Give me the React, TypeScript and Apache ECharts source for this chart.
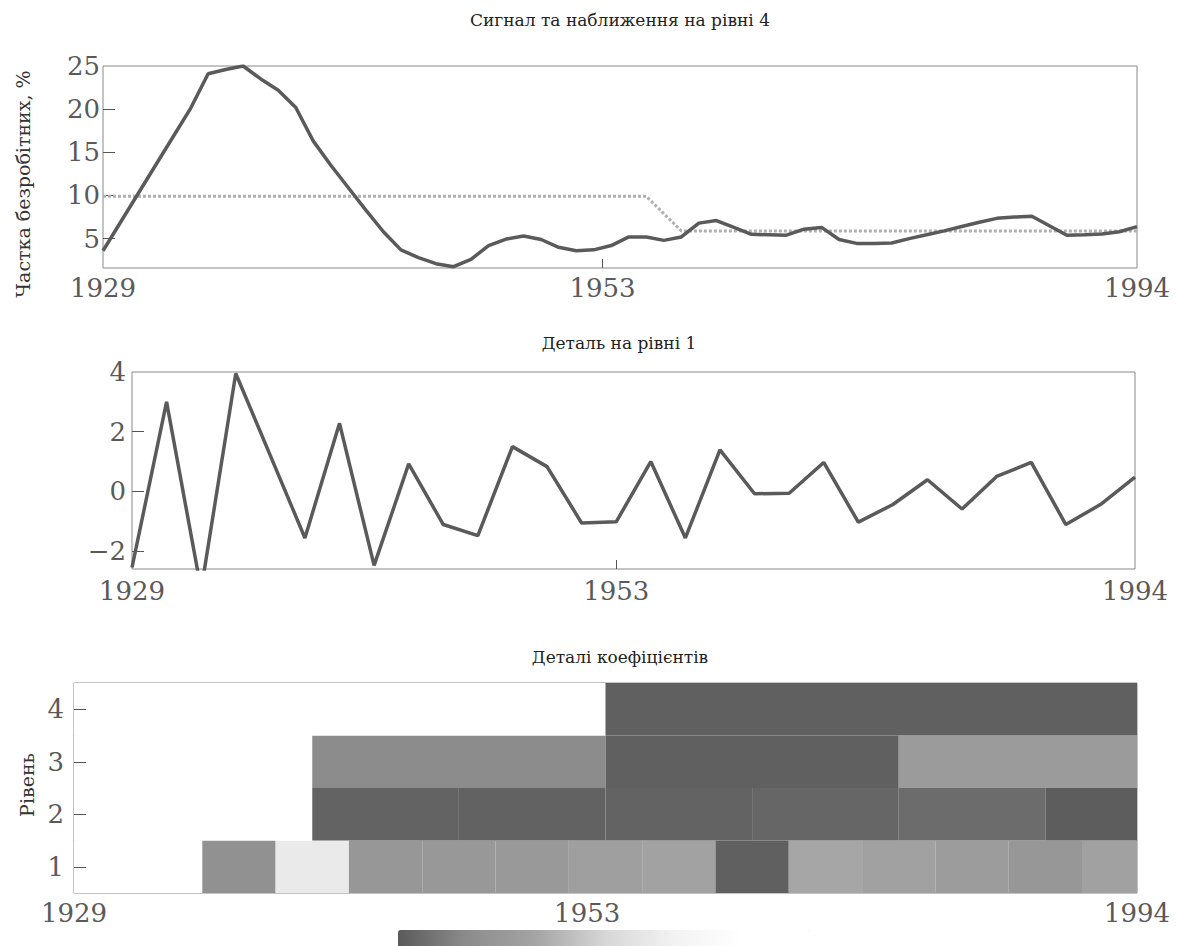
import React, { useEffect, useRef } from 'react';
import * as echarts from 'echarts';

const FONT = 'DejaVu Serif';

// tick labels (years) and their positions on each panel's sample axis
const yearLabels = ['1929', '1953', '1994'];
const signalTickPos = [0, 28.5, 59];
const detailTickPos = [0, 14, 29];
const scaloTickPos = [0, 14, 29];

const unemploymentTicks = [5, 10, 15, 20, 25];
const detailTicks = [-2, 0, 2, 4];
const levelTicks = [1, 2, 3, 4];

// unemployment signal (60 samples)
const signal = [
  3.6, 6.9, 10.2, 13.5, 16.8, 20.1, 24.1, 24.6, 25.0, 23.5,
  22.2, 20.2, 16.3, 13.5, 10.9, 8.3, 5.8, 3.7, 2.8, 2.1,
  1.75, 2.6, 4.2, 4.95, 5.3, 4.9, 4.0, 3.6, 3.7, 4.2,
  5.2, 5.2, 4.8, 5.2, 6.8, 7.1, 6.3, 5.5, 5.45, 5.4,
  6.1, 6.3, 4.9, 4.45, 4.45, 4.5, 5.0, 5.45, 5.9, 6.4,
  6.9, 7.35, 7.5, 7.6, 6.5, 5.4, 5.45, 5.55, 5.8, 6.4,
];

// approximation at level 4 (60 samples)
const approx4 = [
  9.9, 9.9, 9.9, 9.9, 9.9, 9.9, 9.9, 9.9, 9.9, 9.9,
  9.9, 9.9, 9.9, 9.9, 9.9, 9.9, 9.9, 9.9, 9.9, 9.9,
  9.9, 9.9, 9.9, 9.9, 9.9, 9.9, 9.9, 9.9, 9.9, 9.9,
  9.9, 9.9, 7.9, 5.9, 5.9, 5.9, 5.9, 5.9, 5.9, 5.9,
  5.9, 5.9, 5.9, 5.9, 5.9, 5.9, 5.9, 5.9, 5.9, 5.9,
  5.9, 5.9, 5.9, 5.9, 5.9, 5.9, 5.9, 5.9, 5.9, 5.9,
];

// detail at level 1 (30 coefficients)
const detail1 = [
  -2.55, 3.0, -3.3, 3.95, 1.2, -1.56, 2.28, -2.48, 0.92, -1.11,
  -1.48, 1.5, 0.83, -1.06, -1.02, 1.0, -1.56, 1.39, -0.08, -0.06,
  0.97, -1.03, -0.44, 0.39, -0.59, 0.5, 0.97, -1.11, -0.44, 0.48,
];

// scalogram shade per block (0 = darkest, 1 = white)
const level1 = [0.97, 1.0, 0.2, 0.62, 0.24, 0.25, 0.26, 0.3, 0.32, 0.02, 0.34, 0.31, 0.28, 0.24, 0.31];
const level2 = [1.0, 1.0, 0.03, 0.025, 0.03, 0.04, 0.06, 0.01];
const level3 = [1.0, 0.17, 0.02, 0.27];
const level4 = [1.0, 0.02];
const levelValues = [level1, level2, level3, level4];
const levelBlockWidth = [2, 4, 8, 16];
const levelStart = [-0.5, -1.5, -1.5, -1.5];

const scaleColors = ['#5a5a5a', '#8c8c8c', '#a4a4a4', '#d6d6d6', '#f2f2f2', '#ffffff', '#ffffff'];

function labelAt(pos: number[]) {
  return (v: number) => {
    const i = pos.findIndex((p) => Math.abs(p - v) < 1e-6);
    return i >= 0 ? yearLabels[i] : '';
  };
}

function xAxisFor(gridIndex: number, max: number, pos: number[], margin: number) {
  return {
    type: 'value',
    gridIndex,
    min: 0,
    max,
    axisLine: { show: false, onZero: false },
    splitLine: { show: false },
    axisTick: {
      show: true,
      inside: true,
      length: 9,
      customValues: [pos[1]],
      lineStyle: { color: '#555', width: 1 },
    },
    axisLabel: {
      customValues: pos,
      formatter: labelAt(pos),
      fontFamily: FONT,
      fontSize: 26,
      color: '#5a5a5a',
      margin,
    },
  };
}

function yAxisFor(gridIndex: number, min: number, max: number, labels: number[], ticks: number[], margin: number, z: number, fmt?: (v: number) => string) {
  return {
    type: 'value',
    gridIndex,
    min,
    max,
    z,
    axisLine: { show: false, onZero: false },
    splitLine: { show: false },
    axisTick: {
      show: true,
      inside: true,
      length: 12,
      customValues: ticks,
      lineStyle: { color: '#555', width: 1 },
    },
    axisLabel: {
      customValues: labels,
      formatter: fmt || ((v: number) => String(v)),
      fontFamily: FONT,
      fontSize: 26,
      color: '#5a5a5a',
      margin,
    },
  };
}

export default function App() {
  const ref = useRef<HTMLDivElement>(null);
  useEffect(() => {
    if (!ref.current) return;
    const chart = echarts.init(ref.current, undefined, { renderer: 'svg' });

    const cells: number[][] = [];
    levelValues.forEach((arr, li) => {
      arr.forEach((v, k) => {
        const x0 = levelStart[li] + k * levelBlockWidth[li];
        cells.push([x0, x0 + levelBlockWidth[li], li + 1, v]);
      });
    });

    const gridStyle = { show: true, borderColor: '#888', borderWidth: 1, backgroundColor: 'transparent' };

    const option: any = {
      animation: false,
      backgroundColor: '#ffffff',
      grid: [
        { left: 103, top: 66, width: 1034, height: 202, ...gridStyle },
        { left: 132, top: 372, width: 1003, height: 197, ...gridStyle },
        { left: 74, top: 683, width: 1063, height: 210, ...gridStyle },
      ],
      xAxis: [
        xAxisFor(0, 59, signalTickPos, 7),
        xAxisFor(1, 29, detailTickPos, 9),
        xAxisFor(2, 29, scaloTickPos, 7),
      ],
      yAxis: [
        yAxisFor(0, 1.6, 25, unemploymentTicks, [5, 10, 15, 20], 3, 0),
        yAxisFor(1, -2.6, 4, detailTicks, [-2, 0, 2], 6, 0, (v: number) => (v < 0 ? '\u2212' + Math.abs(v) : String(v))),
        yAxisFor(2, 0.5, 4.5, levelTicks, levelTicks, 10, 5),
      ],
      visualMap: {
        type: 'continuous',
        seriesIndex: 3,
        dimension: 3,
        min: 0,
        max: 1,
        orient: 'horizontal',
        left: 398,
        top: 930,
        itemWidth: 20,
        itemHeight: 412,
        padding: 0,
        calculable: false,
        showLabel: false,
        text: null,
        inRange: { color: scaleColors },
      },
      series: [
        {
          type: 'line',
          xAxisIndex: 0,
          yAxisIndex: 0,
          data: approx4.map((v, i) => [i, v]),
          symbol: 'none',
          lineStyle: { color: '#b0b0b0', width: 3, type: [3, 2] },
          z: 2,
        },
        {
          type: 'line',
          xAxisIndex: 0,
          yAxisIndex: 0,
          data: signal.map((v, i) => [i, v]),
          symbol: 'none',
          lineStyle: { color: '#5a5a5a', width: 3.5 },
          z: 3,
        },
        {
          type: 'line',
          xAxisIndex: 1,
          yAxisIndex: 1,
          data: detail1.map((v, i) => [i, v]),
          symbol: 'none',
          clip: true,
          lineStyle: { color: '#5a5a5a', width: 3.5 },
        },
        {
          type: 'custom',
          xAxisIndex: 2,
          yAxisIndex: 2,
          data: cells,
          encode: { x: [0, 1], y: 2 },
          z: 2,
          renderItem: (params: any, api: any) => {
            const x0 = api.value(0);
            const x1 = api.value(1);
            const lv = api.value(2);
            const p0 = api.coord([x0, lv + 0.5]);
            const p1 = api.coord([x1, lv - 0.5]);
            const cs = params.coordSys;
            const shape = echarts.graphic.clipRectByRect(
              { x: p0[0], y: p0[1], width: p1[0] - p0[0], height: p1[1] - p0[1] },
              { x: cs.x, y: cs.y, width: cs.width, height: cs.height }
            );
            if (!shape) return null;
            return { type: 'rect', shape, style: { fill: api.visual('color') } };
          },
        },
      ],
      graphic: [
        { type: 'text', x: 620, y: 20, style: { text: 'Сигнал та наближення на рівні 4', font: `17px "${FONT}"`, fill: '#222', textAlign: 'center', textVerticalAlign: 'middle' } },
        { type: 'text', x: 619, y: 343, style: { text: 'Деталь на рівні 1', font: `17px "${FONT}"`, fill: '#222', textAlign: 'center', textVerticalAlign: 'middle' } },
        { type: 'text', x: 620, y: 657, style: { text: 'Деталі коефіцієнтів', font: `17px "${FONT}"`, fill: '#222', textAlign: 'center', textVerticalAlign: 'middle' } },
        { type: 'text', x: 23, y: 184, rotation: Math.PI / 2, style: { text: 'Частка безробітних, %', font: `19px "${FONT}"`, fill: '#333', textAlign: 'center', textVerticalAlign: 'middle' } },
        { type: 'text', x: 27, y: 785, rotation: Math.PI / 2, style: { text: 'Рівень', font: `19px "${FONT}"`, fill: '#333', textAlign: 'center', textVerticalAlign: 'middle' } },
      ],
    };

    chart.setOption(option);
    return () => chart.dispose();
  }, []);

  return <div ref={ref} style={{ position: 'fixed', left: 0, top: 0, width: 1177, height: 946 }} />;
}
